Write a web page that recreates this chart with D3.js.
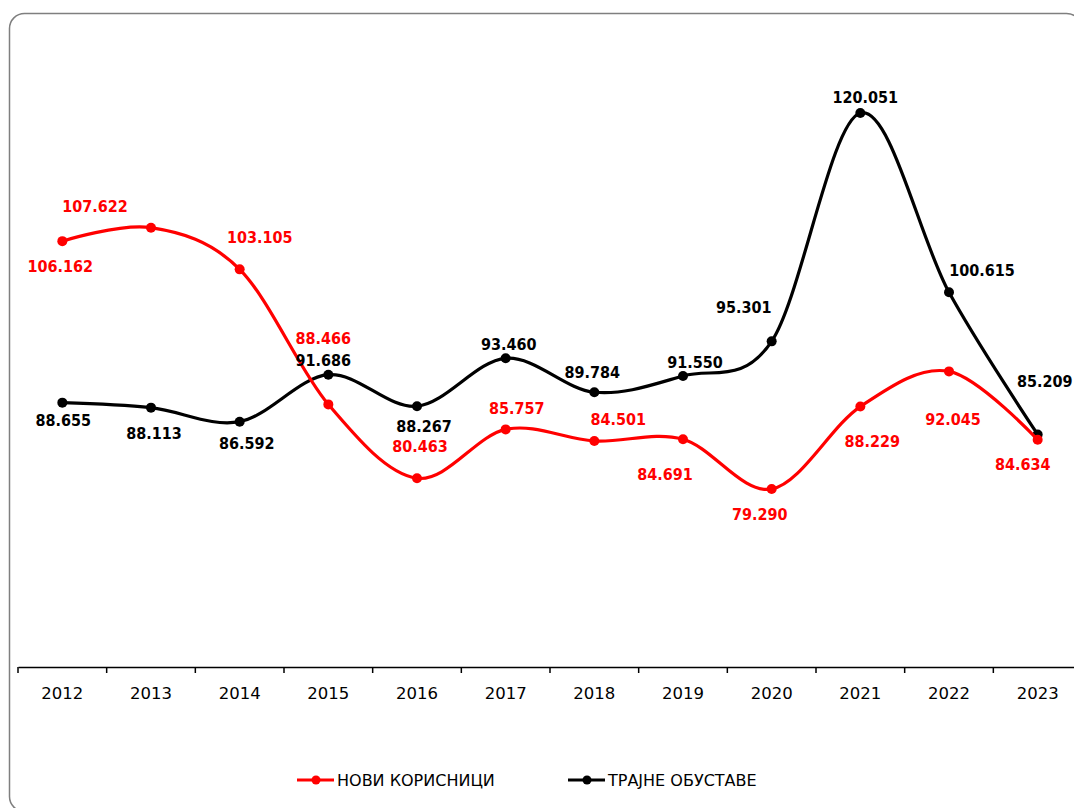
<!DOCTYPE html>
<html>
<head>
<meta charset="utf-8">
<script src="https://cdn.jsdelivr.net/npm/d3@7/dist/d3.min.js"></script>
<style>
  html, body { margin: 0; padding: 0; background: #fff; }
  svg { display: block; }
</style>
</head>
<body>
<svg id="chart" width="1074" height="808"></svg>
<script>
// ---- data ----
const years = ["2012","2013","2014","2015","2016","2017","2018","2019","2020","2021","2022","2023"];
const noviKorisnici = [106162, 107622, 103105, 88466, 80463, 85757, 84501, 84691, 79290, 88229, 92045, 84634];
const trajneObustave = [88655, 88113, 86592, 91686, 88267, 93460, 89784, 91550, 95301, 120051, 100615, 85209];
const seriesNames = ["НОВИ КОРИСНИЦИ", "ТРАЈНЕ ОБУСТАВЕ"];
const seriesColors = ["#ff0000", "#000000"];
const yDomain = [60000, 130000];

// label placement offsets (layout only), [dx, dy] from point
const labelOffsetsNovi = [[-2,25],[-56,-21],[20,-32],[-5,-66],[3,-32],[11,-21],[24,-22],[-18,35],[-12,25],[12,35],[4,48],[-15,24]];
const labelOffsetsTrajne = [[1,18],[3,26],[7,22],[-5,-14],[7,20],[3,-14],[-2,-20],[12,-14],[-28,-34],[5,-16],[33,-22],[7,-53]];

const svg = d3.select("#chart");

// frame
svg.append("rect")
  .attr("x", 9.5).attr("y", 13.5)
  .attr("width", 1072).attr("height", 798)
  .attr("rx", 15).attr("ry", 15)
  .attr("fill", "#fff")
  .attr("stroke", "#7f7f7f")
  .attr("stroke-width", 1.5);

const x = d3.scaleBand().domain(years).range([18, 1082]).padding(0);
const y = d3.scaleLinear().domain(yDomain).range([667, 21.25]);
const cx = d => x(d) + x.bandwidth() / 2;

const fmt = d3.formatLocale({decimal: ",", thousands: ".", grouping: [3], currency: ["", ""]}).format(",d");

// x axis
const axisG = svg.append("g").attr("transform", "translate(0,667)");
axisG.call(d3.axisBottom(x).tickSize(0).tickPadding(20))
  .call(g => g.select(".domain").attr("stroke", "#000").attr("stroke-width", 1.5))
  .call(g => g.selectAll("text")
    .attr("font-family", "'DejaVu Sans', Verdana, sans-serif")
    .attr("font-size", 16.5)
    .attr("fill", "#000"));
// tick marks at category boundaries
const boundaries = years.map(d => x(d)).concat([x.range()[1]]);
axisG.selectAll("line.bnd").data(boundaries).enter().append("line")
  .attr("class", "bnd")
  .attr("x1", d => d).attr("x2", d => d)
  .attr("y1", 0).attr("y2", 6)
  .attr("stroke", "#000").attr("stroke-width", 1.5);

const line = d3.line()
  .x((d, i) => cx(years[i]))
  .y(d => y(d))
  .curve(d3.curveCardinal.tension(0));

const series = [
  {values: trajneObustave, color: seriesColors[1], offsets: labelOffsetsTrajne},
  {values: noviKorisnici, color: seriesColors[0], offsets: labelOffsetsNovi}
];

series.forEach(s => {
  const g = svg.append("g");
  g.append("path")
    .attr("d", line(s.values))
    .attr("fill", "none")
    .attr("stroke", s.color)
    .attr("stroke-width", 3.2)
    .attr("stroke-linejoin", "round");
  g.selectAll("circle").data(s.values).enter().append("circle")
    .attr("cx", (d, i) => cx(years[i]))
    .attr("cy", d => y(d))
    .attr("r", 5)
    .attr("fill", s.color);
});

// labels drawn on top
series.forEach(s => {
  svg.append("g").selectAll("text").data(s.values).enter().append("text")
    .attr("x", (d, i) => cx(years[i]) + s.offsets[i][0])
    .attr("y", (d, i) => y(d) + s.offsets[i][1])
    .attr("dy", "0.36em")
    .attr("text-anchor", "middle")
    .attr("font-family", "'DejaVu Sans Condensed', 'DejaVu Sans', sans-serif")
    .attr("font-stretch", "condensed")
    .attr("font-weight", "bold")
    .attr("font-size", 16)
    .attr("fill", s.color)
    .text(d => fmt(d));
});

// legend
const legendItems = [
  {name: seriesNames[0], color: seriesColors[0], x0: 297},
  {name: seriesNames[1], color: seriesColors[1], x0: 568}
];
const lg = svg.append("g").attr("transform", "translate(0,780)");
legendItems.forEach(it => {
  lg.append("line")
    .attr("x1", it.x0).attr("x2", it.x0 + 37)
    .attr("y1", 0).attr("y2", 0)
    .attr("stroke", it.color).attr("stroke-width", 3.2);
  lg.append("circle")
    .attr("cx", it.x0 + 19).attr("cy", 0).attr("r", 4.5)
    .attr("fill", it.color);
  lg.append("text")
    .attr("x", it.x0 + 40).attr("y", 0).attr("dy", "0.36em")
    .attr("font-family", "'DejaVu Sans', Verdana, sans-serif")
    .attr("font-size", 16)
    .attr("fill", "#000")
    .text(it.name);
});
</script>
</body>
</html>
